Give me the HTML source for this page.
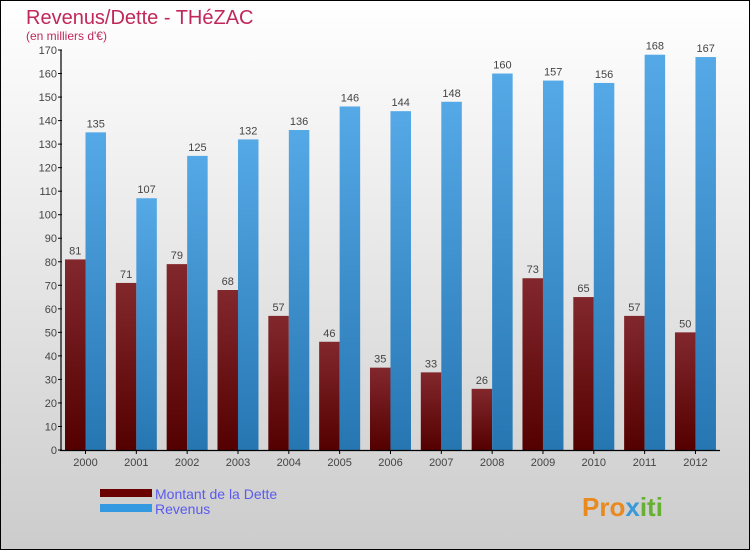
<!DOCTYPE html>
<html><head><meta charset="utf-8"><style>
body{margin:0}
svg{display:block;font-family:"Liberation Sans",sans-serif}
</style></head><body>
<svg width="750" height="550" xmlns="http://www.w3.org/2000/svg">
<defs>
<linearGradient id="bg" x1="0" y1="0" x2="0" y2="1"><stop offset="0" stop-color="#ffffff"/><stop offset="1" stop-color="#cccccc"/></linearGradient>
<linearGradient id="gd" x1="0" y1="0" x2="0" y2="1"><stop offset="0" stop-color="#82282d"/><stop offset="1" stop-color="#540000"/></linearGradient>
<linearGradient id="gr" x1="0" y1="0" x2="0" y2="1"><stop offset="0" stop-color="#55a9e6"/><stop offset="1" stop-color="#2676b2"/></linearGradient>
</defs>
<rect x="0.5" y="0.5" width="749" height="549" fill="url(#bg)" stroke="#000"/>
<text x="26" y="24" font-size="20" fill="#c0285a">Revenus/Dette - THéZAC</text>
<text x="26" y="40" font-size="12" fill="#c0285a">(en milliers d'€)</text>
<g id="plot"></g>
<g>
<rect x="100" y="489" width="52" height="8" fill="#6a0000"/>
<text x="155" y="499" font-size="14" fill="#5a5aee">Montant de la Dette</text>
<rect x="100" y="504" width="52" height="8" fill="#3399e0"/>
<text x="155" y="514" font-size="14" fill="#5a5aee">Revenus</text>
</g>
<text x="582" y="516" font-size="26" font-weight="bold" fill="#e88a20">Pro<tspan fill="#3a9ad9">x</tspan><tspan fill="#66b032">iti</tspan></text>
</svg>
<script>
const years=["2000","2001","2002","2003","2004","2005","2006","2007","2008","2009","2010","2011","2012"];
const dette=[81,71,79,68,57,46,35,33,26,73,65,57,50];
const revenus=[135,107,125,132,136,146,144,148,160,157,156,168,167];
const ticks=[0,10,20,30,40,50,60,70,80,90,100,110,120,130,140,150,160,170];
const NS="http://www.w3.org/2000/svg";
const g=document.getElementById('plot');
const y=v=>450-v*400/170;
const x0=65,step=50.83,bw=20.5;
function el(t,a,txt){const e=document.createElementNS(NS,t);for(const k in a)e.setAttribute(k,a[k]);if(txt!==undefined)e.textContent=txt;g.appendChild(e);return e;}
ticks.forEach(t=>{
 const l=el('line',{x1:58,x2:62,y1:y(t),y2:y(t),stroke:'#000'});
 
 
 const tx=el('text',{x:57,y:y(t)+4,'text-anchor':'end','font-size':11,fill:'#444'},t);
 
 
});
years.forEach((yr,i)=>{
 const xd=x0+i*step;
 const b1=el('rect',{x:xd,y:y(dette[i]),width:bw,height:450-y(dette[i]),fill:'url(#gd)'});
 
 
 const b2=el('rect',{x:xd+bw,y:y(revenus[i]),width:bw,height:450-y(revenus[i]),fill:'url(#gr)'});
 
 
 const l1=el('text',{x:xd+bw/2,y:y(dette[i])-5,'text-anchor':'middle','font-size':11,fill:'#444'},dette[i]);
 
 
 const l2=el('text',{x:xd+bw*1.5,y:y(revenus[i])-5,'text-anchor':'middle','font-size':11,fill:'#444'},revenus[i]);
 
 
 const tk=el('line',{x1:xd+bw,x2:xd+bw,y1:450,y2:454,stroke:'#000'});
 
 
 const xl=el('text',{x:xd+bw,y:466,'text-anchor':'middle','font-size':11,fill:'#444'},yr);
 
 
});
const ya=el('line',{x1:61,x2:61,y1:y(170),y2:451,stroke:'#000','stroke-width':1.2});


const xa=el('line',{x1:60,x2:720,y1:450.5,y2:450.5,stroke:'#000','stroke-width':1.2});


</script>
</body></html>
